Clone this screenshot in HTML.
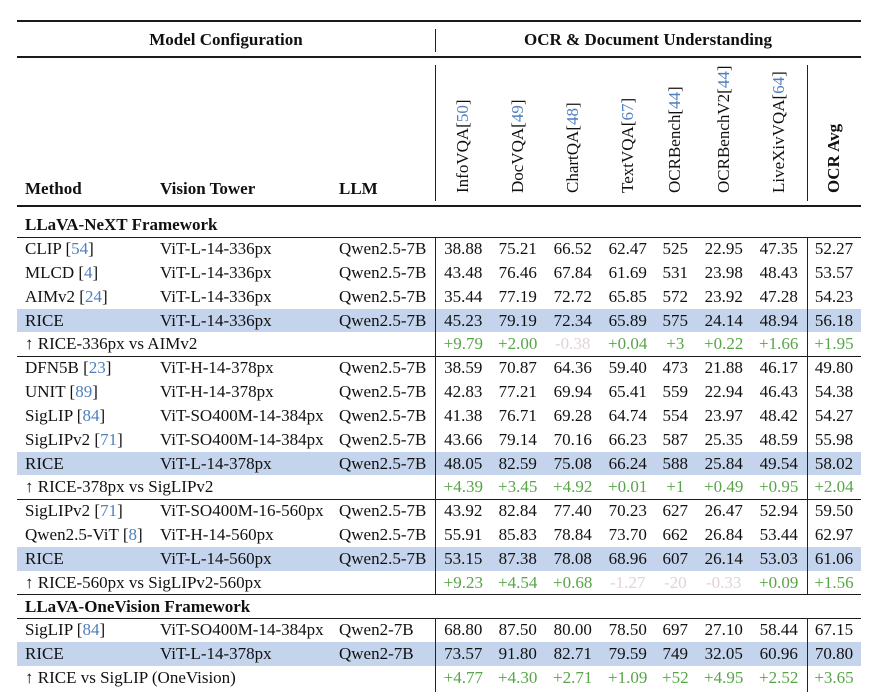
<!DOCTYPE html>
<html><head><meta charset="utf-8">
<style>
html,body{margin:0;padding:0;background:#fff}
#p{position:relative;width:876px;height:700px;overflow:hidden;font-family:"Liberation Serif","Times New Roman",serif;font-size:17px;color:#111}
.r{position:absolute;left:0;width:876px;height:23.83px;line-height:23.83px}
.r>span{position:absolute;white-space:nowrap;top:0}
.b::before{content:"";position:absolute;left:17px;width:844px;top:0;height:23.83px;background:#c3d4ec}
.m{left:25px}.v{left:160px}.l{left:339px}
.d{width:60px;text-align:center}
.d1{left:433.3px}.d2{left:487.7px}.d3{left:542.7px}.d4{left:597.7px}.d5{left:645.3px}.d6{left:693.7px}.d7{left:748.7px}.d8{left:804px}
.g>span.d{color:#57a548}
.g>span.n{color:#e3d2d8}
.ref{color:#4f7fbf}
.bold{font-weight:bold}
.hr{position:absolute;left:17px;width:844px;background:#1a1a1a}
.vl{position:absolute;width:1px;background:#222}
.rot{position:absolute;top:193px;transform:rotate(-90deg);transform-origin:0 0;line-height:20px;height:20px;white-space:nowrap}
.h{position:absolute;white-space:nowrap;font-weight:bold;line-height:20px}
</style></head><body><div id="p">

<!-- header rules -->
<div class="hr" style="top:20.2px;height:1.6px"></div>
<div class="hr" style="top:56.4px;height:1.6px"></div>
<div class="hr" style="top:205.4px;height:1.6px"></div>

<div class="h" style="left:17px;width:418px;text-align:center;top:30px">Model Configuration</div>
<div class="h" style="left:435px;width:426px;text-align:center;top:30px">OCR &amp; Document Understanding</div>

<div class="h" style="left:25px;top:179px">Method</div>
<div class="h" style="left:160px;top:179px">Vision Tower</div>
<div class="h" style="left:339px;top:179px">LLM</div>

<div class="rot" style="left:453.3px">InfoVQA[<span class="ref">50</span>]</div>
<div class="rot" style="left:507.7px">DocVQA[<span class="ref">49</span>]</div>
<div class="rot" style="left:562.7px">ChartQA[<span class="ref">48</span>]</div>
<div class="rot" style="left:617.7px">TextVQA[<span class="ref">67</span>]</div>
<div class="rot" style="left:665.3px">OCRBench[<span class="ref">44</span>]</div>
<div class="rot" style="left:713.7px">OCRBenchV2[<span class="ref">44</span>]</div>
<div class="rot" style="left:768.7px">LiveXivVQA[<span class="ref">64</span>]</div>
<div class="rot bold" style="left:824px">OCR Avg</div>

<!-- body rows -->
<div class="r" style="top:213.3px"><span class="m bold">LLaVA-NeXT Framework</span></div>

<div class="r" style="top:237.13px"><span class="m">CLIP [<span class="ref">54</span>]</span><span class="v">ViT-L-14-336px</span><span class="l">Qwen2.5-7B</span><span class="d d1">38.88</span><span class="d d2">75.21</span><span class="d d3">66.52</span><span class="d d4">62.47</span><span class="d d5">525</span><span class="d d6">22.95</span><span class="d d7">47.35</span><span class="d d8">52.27</span></div>
<div class="r" style="top:260.96px"><span class="m">MLCD [<span class="ref">4</span>]</span><span class="v">ViT-L-14-336px</span><span class="l">Qwen2.5-7B</span><span class="d d1">43.48</span><span class="d d2">76.46</span><span class="d d3">67.84</span><span class="d d4">61.69</span><span class="d d5">531</span><span class="d d6">23.98</span><span class="d d7">48.43</span><span class="d d8">53.57</span></div>
<div class="r" style="top:284.79px"><span class="m">AIMv2 [<span class="ref">24</span>]</span><span class="v">ViT-L-14-336px</span><span class="l">Qwen2.5-7B</span><span class="d d1">35.44</span><span class="d d2">77.19</span><span class="d d3">72.72</span><span class="d d4">65.85</span><span class="d d5">572</span><span class="d d6">23.92</span><span class="d d7">47.28</span><span class="d d8">54.23</span></div>
<div class="r b" style="top:308.62px"><span class="m">RICE</span><span class="v">ViT-L-14-336px</span><span class="l">Qwen2.5-7B</span><span class="d d1">45.23</span><span class="d d2">79.19</span><span class="d d3">72.34</span><span class="d d4">65.89</span><span class="d d5">575</span><span class="d d6">24.14</span><span class="d d7">48.94</span><span class="d d8">56.18</span></div>
<div class="r g" style="top:332.45px"><span class="m">↑ RICE-336px vs AIMv2</span><span class="d d1">+9.79</span><span class="d d2">+2.00</span><span class="n d3" style="width:60px;text-align:center">-0.38</span><span class="d d4">+0.04</span><span class="d d5">+3</span><span class="d d6">+0.22</span><span class="d d7">+1.66</span><span class="d d8">+1.95</span></div>

<div class="r" style="top:356.28px"><span class="m">DFN5B [<span class="ref">23</span>]</span><span class="v">ViT-H-14-378px</span><span class="l">Qwen2.5-7B</span><span class="d d1">38.59</span><span class="d d2">70.87</span><span class="d d3">64.36</span><span class="d d4">59.40</span><span class="d d5">473</span><span class="d d6">21.88</span><span class="d d7">46.17</span><span class="d d8">49.80</span></div>
<div class="r" style="top:380.11px"><span class="m">UNIT [<span class="ref">89</span>]</span><span class="v">ViT-H-14-378px</span><span class="l">Qwen2.5-7B</span><span class="d d1">42.83</span><span class="d d2">77.21</span><span class="d d3">69.94</span><span class="d d4">65.41</span><span class="d d5">559</span><span class="d d6">22.94</span><span class="d d7">46.43</span><span class="d d8">54.38</span></div>
<div class="r" style="top:403.94px"><span class="m">SigLIP [<span class="ref">84</span>]</span><span class="v">ViT-SO400M-14-384px</span><span class="l">Qwen2.5-7B</span><span class="d d1">41.38</span><span class="d d2">76.71</span><span class="d d3">69.28</span><span class="d d4">64.74</span><span class="d d5">554</span><span class="d d6">23.97</span><span class="d d7">48.42</span><span class="d d8">54.27</span></div>
<div class="r" style="top:427.77px"><span class="m">SigLIPv2 [<span class="ref">71</span>]</span><span class="v">ViT-SO400M-14-384px</span><span class="l">Qwen2.5-7B</span><span class="d d1">43.66</span><span class="d d2">79.14</span><span class="d d3">70.16</span><span class="d d4">66.23</span><span class="d d5">587</span><span class="d d6">25.35</span><span class="d d7">48.59</span><span class="d d8">55.98</span></div>
<div class="r b" style="top:451.6px"><span class="m">RICE</span><span class="v">ViT-L-14-378px</span><span class="l">Qwen2.5-7B</span><span class="d d1">48.05</span><span class="d d2">82.59</span><span class="d d3">75.08</span><span class="d d4">66.24</span><span class="d d5">588</span><span class="d d6">25.84</span><span class="d d7">49.54</span><span class="d d8">58.02</span></div>
<div class="r g" style="top:475.43px"><span class="m">↑ RICE-378px vs SigLIPv2</span><span class="d d1">+4.39</span><span class="d d2">+3.45</span><span class="d d3">+4.92</span><span class="d d4">+0.01</span><span class="d d5">+1</span><span class="d d6">+0.49</span><span class="d d7">+0.95</span><span class="d d8">+2.04</span></div>

<div class="r" style="top:499.26px"><span class="m">SigLIPv2 [<span class="ref">71</span>]</span><span class="v">ViT-SO400M-16-560px</span><span class="l">Qwen2.5-7B</span><span class="d d1">43.92</span><span class="d d2">82.84</span><span class="d d3">77.40</span><span class="d d4">70.23</span><span class="d d5">627</span><span class="d d6">26.47</span><span class="d d7">52.94</span><span class="d d8">59.50</span></div>
<div class="r" style="top:523.09px"><span class="m">Qwen2.5-ViT [<span class="ref">8</span>]</span><span class="v">ViT-H-14-560px</span><span class="l">Qwen2.5-7B</span><span class="d d1">55.91</span><span class="d d2">85.83</span><span class="d d3">78.84</span><span class="d d4">73.70</span><span class="d d5">662</span><span class="d d6">26.84</span><span class="d d7">53.44</span><span class="d d8">62.97</span></div>
<div class="r b" style="top:546.92px"><span class="m">RICE</span><span class="v">ViT-L-14-560px</span><span class="l">Qwen2.5-7B</span><span class="d d1">53.15</span><span class="d d2">87.38</span><span class="d d3">78.08</span><span class="d d4">68.96</span><span class="d d5">607</span><span class="d d6">26.14</span><span class="d d7">53.03</span><span class="d d8">61.06</span></div>
<div class="r g" style="top:570.75px"><span class="m">↑ RICE-560px vs SigLIPv2-560px</span><span class="d d1">+9.23</span><span class="d d2">+4.54</span><span class="d d3">+0.68</span><span class="n d4" style="width:60px;text-align:center">-1.27</span><span class="n d5" style="width:60px;text-align:center">-20</span><span class="n d6" style="width:60px;text-align:center">-0.33</span><span class="d d7">+0.09</span><span class="d d8">+1.56</span></div>

<div class="r" style="top:594.58px"><span class="m bold">LLaVA-OneVision Framework</span></div>

<div class="r" style="top:618.41px"><span class="m">SigLIP [<span class="ref">84</span>]</span><span class="v">ViT-SO400M-14-384px</span><span class="l">Qwen2-7B</span><span class="d d1">68.80</span><span class="d d2">87.50</span><span class="d d3">80.00</span><span class="d d4">78.50</span><span class="d d5">697</span><span class="d d6">27.10</span><span class="d d7">58.44</span><span class="d d8">67.15</span></div>
<div class="r b" style="top:642.24px"><span class="m">RICE</span><span class="v">ViT-L-14-378px</span><span class="l">Qwen2-7B</span><span class="d d1">73.57</span><span class="d d2">91.80</span><span class="d d3">82.71</span><span class="d d4">79.59</span><span class="d d5">749</span><span class="d d6">32.05</span><span class="d d7">60.96</span><span class="d d8">70.80</span></div>
<div class="r g" style="top:666.07px"><span class="m">↑ RICE vs SigLIP (OneVision)</span><span class="d d1">+4.77</span><span class="d d2">+4.30</span><span class="d d3">+2.71</span><span class="d d4">+1.09</span><span class="d d5">+52</span><span class="d d6">+4.95</span><span class="d d7">+2.52</span><span class="d d8">+3.65</span></div>

<!-- body rules -->
<div class="hr" style="top:236.6px;height:1.1px"></div>
<div class="hr" style="top:355.7px;height:1.1px"></div>
<div class="hr" style="top:498.7px;height:1.1px"></div>
<div class="hr" style="top:593.8px;height:1.7px"></div>
<div class="hr" style="top:617.9px;height:1.1px"></div>

<!-- vertical lines -->
<div class="vl" style="left:434.5px;top:29px;height:23px"></div>
<div class="vl" style="left:434.5px;top:65px;height:136px"></div>
<div class="vl" style="left:806.5px;top:65px;height:136px"></div>
<div class="vl" style="left:434.5px;top:237px;height:357px"></div>
<div class="vl" style="left:806.5px;top:237px;height:357px"></div>
<div class="vl" style="left:434.5px;top:618px;height:74px"></div>
<div class="vl" style="left:806.5px;top:618px;height:74px"></div>

</div></body></html>
